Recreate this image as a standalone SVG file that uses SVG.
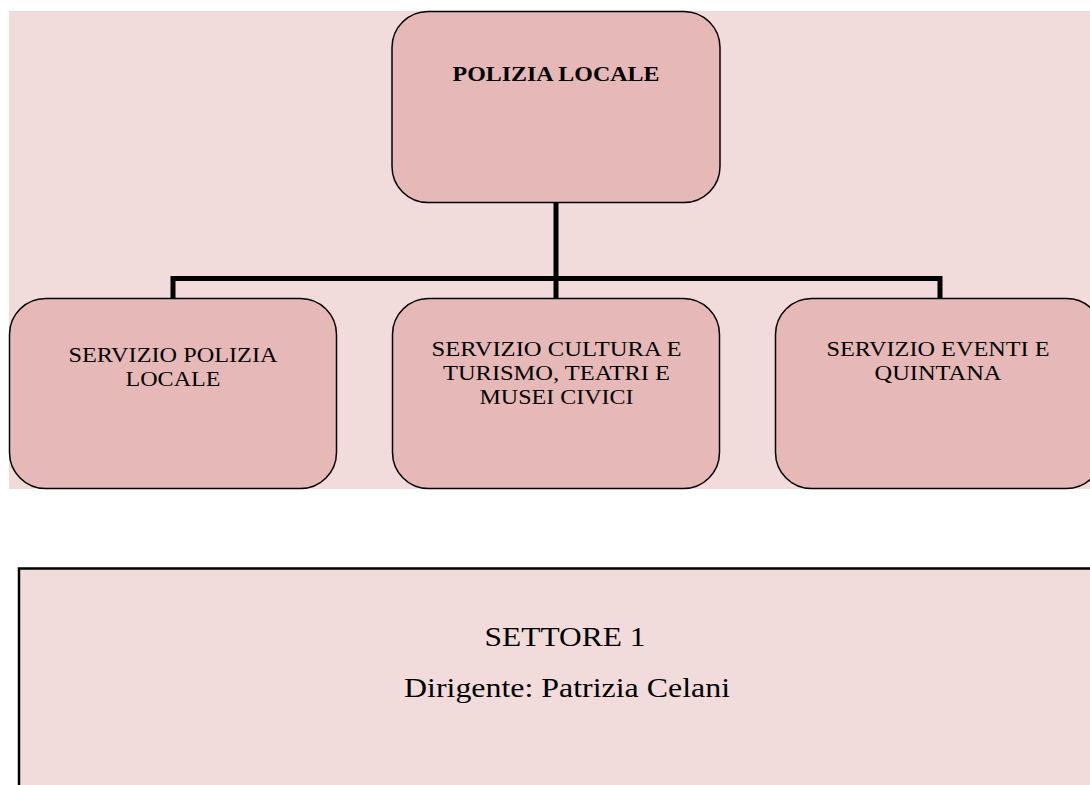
<svg xmlns="http://www.w3.org/2000/svg" width="1090" height="785" viewBox="0 0 1090 785">
<style>
.box{fill:#e6b8b7;stroke:#000;stroke-width:1.5}
.t{font-family:"Liberation Serif","Times New Roman",serif;font-size:21px;fill:#000;text-anchor:middle}
.b{font-weight:bold}
.big{font-family:"Liberation Serif","Times New Roman",serif;font-size:27px;fill:#000;text-anchor:middle}
.conn{stroke:#000;stroke-width:5;fill:none}
</style>
<rect width="1090" height="785" fill="#ffffff"/>
<rect x="9" y="11" width="1081" height="478" fill="#f2dcdb"/>
<g id="connectors">
<line class="conn" x1="556" y1="203" x2="556" y2="298"/>
<polyline class="conn" points="173,298 173,278.5 940,278.5 940,298"/>
</g>
<g id="polizia-locale">
<rect class="box" x="392" y="11.5" width="328" height="191" rx="36" ry="36"/>
<text class="t b" x="556" y="81" textLength="207" lengthAdjust="spacingAndGlyphs">POLIZIA LOCALE</text>
</g>
<g id="servizio-polizia-locale">
<rect class="box" x="9.5" y="298.5" width="327" height="190" rx="36" ry="36"/>
<text class="t" x="173" y="362" textLength="209" lengthAdjust="spacingAndGlyphs">SERVIZIO POLIZIA</text>
<text class="t" x="173" y="386" textLength="95" lengthAdjust="spacingAndGlyphs">LOCALE</text>
</g>
<g id="servizio-cultura">
<rect class="box" x="392.5" y="298.5" width="327" height="190" rx="36" ry="36"/>
<text class="t" x="556.5" y="356" textLength="250" lengthAdjust="spacingAndGlyphs">SERVIZIO CULTURA E</text>
<text class="t" x="556.5" y="380" textLength="227" lengthAdjust="spacingAndGlyphs">TURISMO, TEATRI E</text>
<text class="t" x="556.5" y="404" textLength="154" lengthAdjust="spacingAndGlyphs">MUSEI CIVICI</text>
</g>
<g id="servizio-eventi">
<rect class="box" x="775.5" y="298.5" width="327" height="190" rx="36" ry="36"/>
<text class="t" x="938" y="356" textLength="223" lengthAdjust="spacingAndGlyphs">SERVIZIO EVENTI E</text>
<text class="t" x="938" y="380" textLength="127" lengthAdjust="spacingAndGlyphs">QUINTANA</text>
</g>
<g id="settore">
<rect x="19" y="568.5" width="1080" height="230" fill="#f2dcdb" stroke="#000" stroke-width="2.5"/>
<text class="big" x="565" y="646" textLength="161" lengthAdjust="spacingAndGlyphs">SETTORE 1</text>
<text class="big" x="567" y="697" textLength="326" lengthAdjust="spacingAndGlyphs">Dirigente: Patrizia Celani</text>
</g>
</svg>
